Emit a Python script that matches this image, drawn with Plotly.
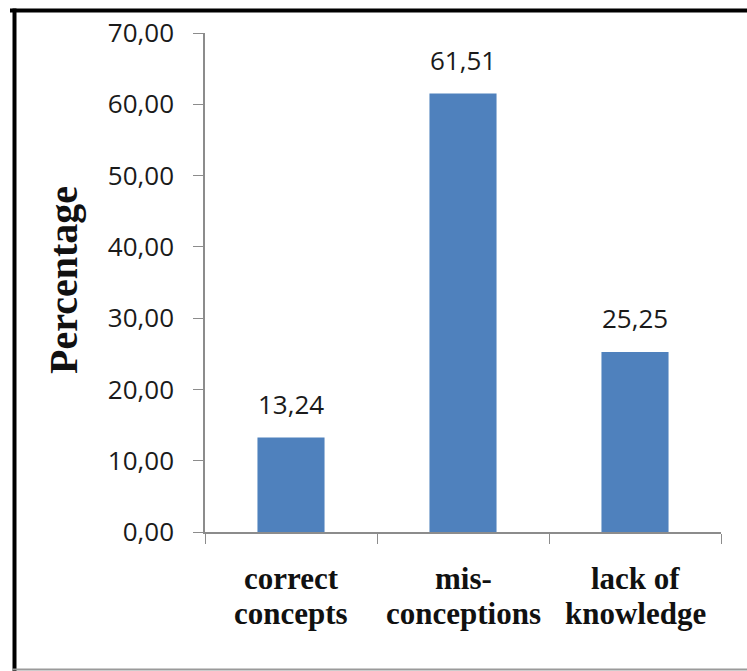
import plotly.graph_objects as go

# Share of answers per response category (percent)
categories = ["correct concepts", "misconceptions", "lack of knowledge"]
label_lines = [["correct", "concepts"], ["mis-", "conceptions"], ["lack of", "knowledge"]]
values = [13.24, 61.51, 25.25]
y_ticks = [0, 10, 20, 30, 40, 50, 60, 70]
y_tick_text = ["0,00", "10,00", "20,00", "30,00", "40,00", "50,00", "60,00", "70,00"]

W, H = 747, 671
ML, MR, MT, MB = 205, 26, 33, 139
PW, PH = W - ML - MR, H - MT - MB


def px_x(x):
    return (x - ML) / PW


def px_y(y):
    return (H - MB - y) / PH


fig = go.Figure()
fig.add_trace(go.Bar(
    x=categories, y=values,
    marker=dict(color="#4F81BD", line=dict(width=0)),
    hoverinfo="skip",
))

annotations = []
# value labels above each bar
for c, v in zip(categories, values):
    annotations.append(dict(
        x=c, y=v, xref="x", yref="y", text=f"{v:.2f}".replace(".", ","),
        showarrow=False, yanchor="bottom", yshift=14,
        font=dict(family="Open Sans", size=26, color="#1a1a1a"),
    ))
# two-line category labels under the axis, one annotation per line
for c, lines in zip(categories, label_lines):
    for i, line in enumerate(lines):
        annotations.append(dict(
            x=c, y=0, xref="x", yref="paper", text=f"<b>{line}</b>",
            showarrow=False, yanchor="top", yshift=-27 - 35 * i,
            font=dict(family="Liberation Serif", size=31, color="#111"),
        ))
# rotated y-axis title
annotations.append(dict(
    x=px_x(63), y=px_y(280), xref="paper", yref="paper",
    text="<b>Percentage</b>", textangle=-90, showarrow=False,
    xanchor="center", yanchor="middle",
    font=dict(family="Liberation Serif", size=40, color="#111"),
))

# frame around the figure: heavy top and left edges, thin grey bottom
shapes = [
    dict(type="line", xref="paper", yref="paper",
         x0=px_x(10), x1=px_x(W + 5), y0=px_y(10.5), y1=px_y(10.5),
         line=dict(color="black", width=4)),
    dict(type="line", xref="paper", yref="paper",
         x0=px_x(14.5), x1=px_x(14.5), y0=px_y(8.5), y1=px_y(H + 5),
         line=dict(color="black", width=4)),
    dict(type="line", xref="paper", yref="paper",
         x0=px_x(12), x1=px_x(W + 5), y0=px_y(669.5), y1=px_y(669.5),
         line=dict(color="#9a9a9a", width=2)),
]

fig.update_layout(
    width=W, height=H,
    margin=dict(l=ML, r=MR, t=MT, b=MB, pad=0),
    paper_bgcolor="white", plot_bgcolor="white",
    showlegend=False, bargap=0.61,
    annotations=annotations, shapes=shapes,
    xaxis=dict(
        showticklabels=False, showline=True, linecolor="#8c8c8c", linewidth=1.5,
        ticks="outside", tickson="boundaries", ticklen=10, tickcolor="#8c8c8c",
        showgrid=False, zeroline=False, fixedrange=True,
    ),
    yaxis=dict(
        range=[0, 70], tickvals=y_ticks, ticktext=y_tick_text,
        showline=True, linecolor="#8c8c8c", linewidth=1.5,
        ticks="outside", ticklen=10, tickcolor="#8c8c8c",
        ticklabelstandoff=14,
        tickfont=dict(family="Open Sans", size=26, color="#1a1a1a"),
        showgrid=False, zeroline=False, fixedrange=True,
    ),
)

fig.write_html("out.html")
